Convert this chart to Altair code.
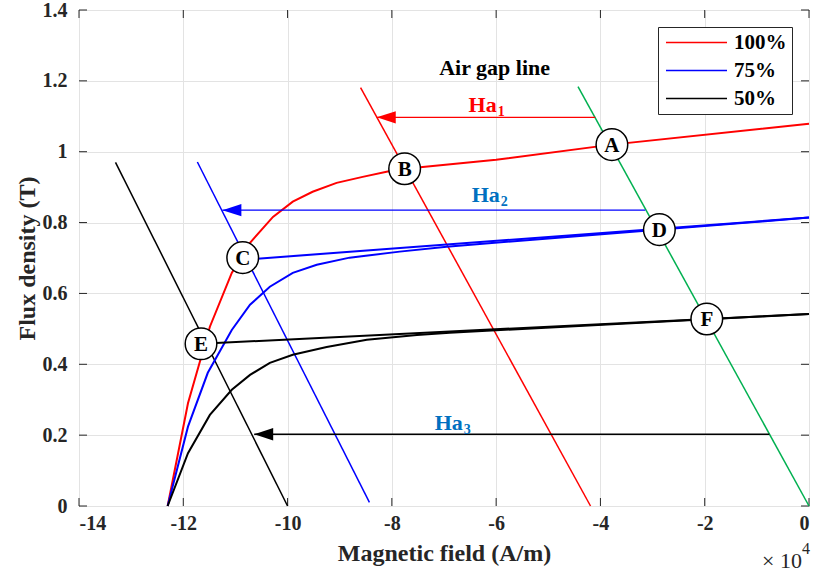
import altair as alt
import pandas as pd

FONT = "Liberation Serif"

# ---- demagnetisation curves (H in units of 1e4 A/m, B in T) ----
red_H = [-12.30, -11.91, -11.49, -11.07, -10.72, -10.28, -9.90, -9.52, -9.06, -8.56, -8.08, -7.75, -6.0, -3.78, 0.0]
red_B = [0.0, 0.29, 0.506, 0.658, 0.743, 0.816, 0.859, 0.887, 0.912, 0.929, 0.944, 0.952, 0.977, 1.020, 1.079]

blue_H = [-12.30, -11.91, -11.53, -11.07, -10.72, -10.34, -9.90, -9.44, -8.81, -7.85, -6.95, 0.0]
blue_B = [0.0, 0.224, 0.376, 0.497, 0.568, 0.619, 0.658, 0.681, 0.701, 0.718, 0.732, 0.814]
blue_recoil_H = [-10.86, 0.0]
blue_recoil_B = [0.695, 0.814]

black_H = [-12.30, -11.91, -11.49, -11.07, -10.72, -10.34, -9.90, -9.25, -8.48, -7.52, -6.89, 0.0]
black_B = [0.0, 0.149, 0.257, 0.328, 0.370, 0.404, 0.427, 0.449, 0.469, 0.483, 0.489, 0.542]
black_recoil_H = [-11.66, 0.0]
black_recoil_B = [0.458, 0.542]

series_names = ["100%", "75%", "50%"]
series_colors = ["#FF0000", "#0000FF", "#000000"]

# ---- load lines ----
red_load_H = [-8.60, -4.19]
red_load_B = [1.181, 0.0]
blue_load_H = [-11.73, -8.43]
blue_load_B = [0.971, 0.01]
black_load_H = [-13.30, -10.0]
black_load_B = [0.970, 0.0]
airgap_H = [-4.43, 0.0]
airgap_B = [1.184, 0.0]

# ---- arrows (start, tip) ----
ha1_H = [-4.10, -8.29]
ha1_B = [1.097, 1.097]
ha2_H = [-3.14, -11.25]
ha2_B = [0.835, 0.835]
ha3_H = [-0.76, -10.64]
ha3_B = [0.2025, 0.2025]

# ---- operating points ----
pt_labels = ["A", "B", "C", "D", "E", "F"]
pt_H = [-3.78, -7.755, -10.86, -2.87, -11.66, -1.96]
pt_B = [1.020, 0.952, 0.701, 0.780, 0.458, 0.528]

# ---- annotations ----
ha_text = ["Ha", "Ha", "Ha"]
ha_sub = ["1", "2", "3"]
ha_H = [-5.99, -5.93, -6.64]
ha_B = [1.111, 0.857, 0.215]
ha_colors = ["#FF0000", "#0070C0", "#0070C0"]
airgap_label = "Air gap line"
airgap_label_H = [-6.03]
airgap_label_B = [1.237]

x_ticks = [-14, -12, -10, -8, -6, -4, -2, 0]
y_ticks = [0, 0.2, 0.4, 0.6, 0.8, 1, 1.2, 1.4]

W, Hh = 730, 496

xscale = alt.Scale(domain=[-14, 0], nice=False, zero=False)
yscale = alt.Scale(domain=[0, 1.4], nice=False, zero=False)
X = alt.X("H:Q", scale=xscale, axis=alt.Axis(
    values=x_ticks, labelExpr="(datum.value < 0 ? '-' : '') + toString(abs(datum.value))",
    title="Magnetic field (A/m)", grid=True, tickSize=0, domain=False, labelPadding=7,
    titleY=47, titleBaseline="middle"))
Y = alt.Y("B:Q", scale=yscale, axis=alt.Axis(
    values=y_ticks, labelExpr="toString(datum.value)", title="Flux density (T)",
    grid=True, tickSize=0, domain=False, labelPadding=12,
    titleX=-52, titleY=248, titleBaseline="middle", titleAngle=270))


def df_line(hs, bs, series=None, part=None):
    d = pd.DataFrame({"H": hs, "B": bs, "order": list(range(len(hs)))})
    if series is not None:
        d["series"] = series
        d["part"] = part
    return d


curves = pd.concat([
    df_line(red_H, red_B, "100%", "r1"),
    df_line(blue_H, blue_B, "75%", "b1"),
    df_line(blue_recoil_H, blue_recoil_B, "75%", "b2"),
    df_line(black_H, black_B, "50%", "k1"),
    df_line(black_recoil_H, black_recoil_B, "50%", "k2"),
])

color = alt.Color("series:N", scale=alt.Scale(domain=series_names, range=series_colors),
                  legend=alt.Legend(title=None, orient="none", legendX=579, legendY=17,
                                    symbolType="stroke", symbolSize=3721, symbolStrokeWidth=1.5,
                                    clipHeight=21, labelFont=FONT, labelFontSize=21,
                                    labelFontWeight="bold", labelColor="black",
                                    strokeColor="#262626", fillColor="white",
                                    padding=5, rowPadding=6, labelOffset=6, symbolOffset=2))

layers = []
# ticks (inward), drawn from tick lists
xt = pd.DataFrame({"H": x_ticks})
yt = pd.DataFrame({"B": y_ticks})
layers.append(alt.Chart(xt).mark_rule(color="#262626").encode(x=X, y=alt.value(Hh - 8), y2=alt.value(Hh)))
layers.append(alt.Chart(xt).mark_rule(color="#262626").encode(x=X, y=alt.value(0), y2=alt.value(8)))
layers.append(alt.Chart(yt).mark_rule(color="#262626").encode(y=Y, x=alt.value(0), x2=alt.value(8)))
layers.append(alt.Chart(yt).mark_rule(color="#262626").encode(y=Y, x=alt.value(W - 8), x2=alt.value(W)))

for hs, bs, c in [(red_load_H, red_load_B, "#FF0000"), (blue_load_H, blue_load_B, "#0000FF"),
                  (black_load_H, black_load_B, "#000000"), (airgap_H, airgap_B, "#00B050")]:
    layers.append(alt.Chart(df_line(hs, bs)).mark_line(color=c, strokeWidth=1.5).encode(
        x=X, y=Y, order="order:Q"))

layers.append(alt.Chart(curves).mark_line(strokeWidth=2).encode(
    x=X, y=Y, color=color, detail="part:N", order="order:Q"))

arrow_shape = "M0,0L2,-0.65L2,0.65Z"
for hs, bs, c in [(ha1_H, ha1_B, "#FF0000"), (ha2_H, ha2_B, "#0000FF"), (ha3_H, ha3_B, "#000000")]:
    d = df_line(hs, bs)
    layers.append(alt.Chart(d).mark_line(color=c, strokeWidth=1.3).encode(x=X, y=Y, order="order:Q"))
    layers.append(alt.Chart(d.iloc[[1]]).mark_point(shape=arrow_shape, filled=True, color=c,
                                                     size=361, opacity=1).encode(x=X, y=Y))

pts = pd.DataFrame({"H": pt_H, "B": pt_B, "t": pt_labels})
layers.append(alt.Chart(pts).mark_point(shape="circle", filled=True, fill="white", stroke="black",
                                        strokeWidth=1.5, size=1000, opacity=1).encode(x=X, y=Y))
layers.append(alt.Chart(pts).mark_text(font=FONT, fontSize=21, fontWeight="bold", color="black",
                                       baseline="middle", align="center", dy=1).encode(
    x=X, y=Y, text="t:N"))

ha = pd.DataFrame({"H": ha_H, "B": ha_B, "t": ha_text, "s": ha_sub, "c": ha_colors})
layers.append(alt.Chart(ha).mark_text(font=FONT, fontSize=22, fontWeight="bold", align="right",
                                      baseline="alphabetic").encode(
    x=X, y=Y, text="t:N", color=alt.Color("c:N", scale=None, legend=None)))
layers.append(alt.Chart(ha).mark_text(font=FONT, fontSize=14, fontWeight="bold", align="left",
                                      baseline="alphabetic", dx=1, dy=4).encode(
    x=X, y=Y, text="s:N", color=alt.Color("c:N", scale=None, legend=None)))

ag = pd.DataFrame({"H": airgap_label_H, "B": airgap_label_B, "t": [airgap_label]})
layers.append(alt.Chart(ag).mark_text(font=FONT, fontSize=22, fontWeight="bold", color="black",
                                      align="center", baseline="middle").encode(x=X, y=Y, text="t:N"))

# x10^4 exponent label
mult = pd.DataFrame({"t": ["\u00d7 10"], "e": ["4"]})
layers.append(alt.Chart(mult).mark_text(font=FONT, fontSize=22, color="#262626", align="center",
                                        baseline="middle").encode(
    x=alt.value(703), y=alt.value(551), text="t:N"))
layers.append(alt.Chart(mult).mark_text(font=FONT, fontSize=16, color="#262626", align="center",
                                        baseline="middle").encode(
    x=alt.value(727), y=alt.value(539), text="e:N"))

chart = alt.layer(*layers).resolve_scale(color="independent").properties(
    width=W, height=Hh,
    autosize=alt.AutoSizeParams(type="none"),
    padding={"left": 79, "top": 10, "right": 6, "bottom": 69},
).configure_view(stroke="#262626", strokeWidth=1).configure_axis(
    labelFont=FONT, labelFontSize=20, labelFontWeight="bold", labelColor="#262626",
    titleFont=FONT, titleFontSize=24, titleFontWeight="bold", titleColor="#262626",
    gridColor="#e3e3e3", gridWidth=1,
)

chart.save("out.html", embed_options={"renderer": "svg", "actions": False})
